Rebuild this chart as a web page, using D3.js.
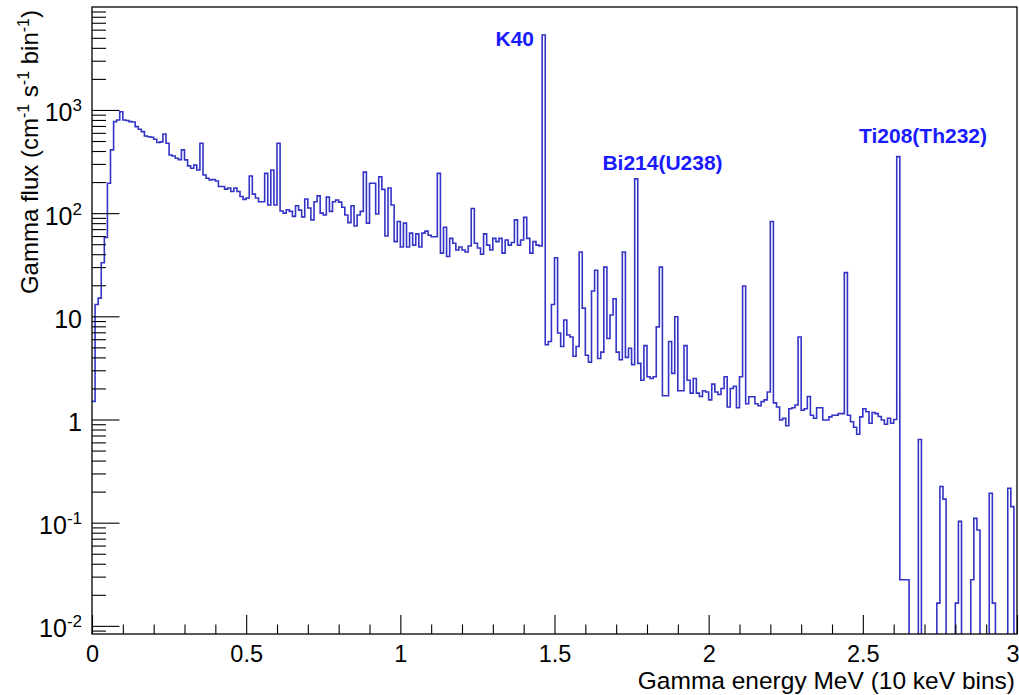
<!DOCTYPE html>
<html><head><meta charset="utf-8">
<script src="https://cdn.jsdelivr.net/npm/d3@7"></script>
<style>
html,body{margin:0;padding:0;background:#fff;}
svg{display:block;font-family:"Liberation Sans",Arial,Helvetica,sans-serif;}
</style></head><body>
<svg id="chart" width="1019" height="695"></svg>
<script>
// Gamma flux per 10 keV bin (bin i covers i*0.01 .. (i+1)*0.01 MeV); 0 = empty bin
const flux = [
  1.5, 13, 15, 33, 58, 195, 410, 770, 800, 960,
  800, 790, 770, 765, 690, 650, 617, 560, 550, 543,
  520, 483, 490, 585, 475, 366, 358, 340, 330, 410,
  328, 287, 272, 293, 262, 475, 234, 218, 210, 212,
  205, 181, 181, 171, 175, 162, 175, 162, 145, 136,
  140, 229, 153, 140, 129, 129, 243, 120, 262, 120,
  475, 105, 100, 108, 104, 93, 118, 107, 92, 137,
  112, 86, 129, 147, 100, 96, 143, 104, 129, 134,
  128, 114, 96, 81, 118, 75, 96, 104, 250, 80,
  195, 195, 98, 225, 170, 60, 175, 120, 53, 83,
  47, 80, 47, 64, 49, 63, 47, 64, 67, 61,
  59, 59, 243, 41, 73, 38, 57, 51, 44, 47,
  44, 42, 48, 111, 51, 46, 40, 63, 49, 44,
  57, 53, 57, 41, 55, 49, 52, 86, 49, 55,
  91, 57, 41, 53, 49, 48, 5330, 5.3, 5.7, 13,
  37, 6.9, 5.1, 9.2, 6.6, 6.3, 4.1, 5.1, 42, 12,
  4.2, 3.6, 17.6, 28, 3.9, 4.5, 30, 6.1, 10.3, 14.8,
  4.5, 3.8, 42, 4.0, 4.9, 3.4, 215, 3.5, 2.4, 5.2,
  2.6, 2.5, 2.6, 7.9, 30, 1.7, 1.7, 5.7, 2.8, 9.9,
  1.9, 1.9, 5.2, 2.4, 1.8, 2.5, 1.8, 1.67, 1.9, 1.85,
  1.55, 2.2, 1.85, 1.75, 2.0, 2.6, 1.32, 2.0, 2.1, 1.3,
  2.6, 19.7, 1.42, 1.66, 1.66, 1.42, 1.36, 1.49, 1.55, 1.85,
  83, 1.45, 1.32, 0.99, 1.03, 0.87, 1.27, 1.3, 1.38, 6.3,
  1.23, 1.27, 1.67, 1.1, 1.03, 1.3, 1.3, 0.99, 0.99, 1.06,
  1.1, 1.1, 1.14, 1.14, 26.5, 1.1, 0.95, 0.84, 0.72, 1.06,
  1.27, 1.19, 0.92, 1.17, 1.14, 1.07, 0.99, 0.9, 1.03, 0.92,
  1.0, 353, 0.028, 0.028, 0.028, 0, 0, 0, 0.64, 0,
  0, 0, 0, 0, 0.0166, 0.224, 0.169, 0, 0, 0,
  0.0166, 0.103, 0, 0, 0, 0.028, 0.11, 0.085, 0, 0,
  0, 0.193, 0.0166, 0, 0, 0, 0, 0.216, 0.143, 0
];
const binWidth = 0.01; // MeV
const xTicks = [0, 0.5, 1, 1.5, 2, 2.5, 3];
const xTickLabels = ["0", "0.5", "1", "1.5", "2", "2.5", "3"];
const yTicks = [0.01, 0.1, 1, 10, 100, 1000];
const yTickBase = ["10", "10", "1", "10", "10", "10"];
const yTickExp = ["-2", "-1", "", "", "2", "3"];
const peakNames = ["K40", "Bi214(U238)", "Ti208(Th232)"];
const xTitle = "Gamma energy MeV (10 keV bins)";

const svg = d3.select("#chart");
const L = 92, R = 1017, T = 7, B = 634;
const x = d3.scaleLinear().domain([0, 3]).range([L, R]);
const y = d3.scaleLog().domain([0.00834, 9950]).range([B, T]);

svg.append("rect").attr("width", 1019).attr("height", 695).attr("fill", "#fff");

svg.append("defs").append("clipPath").attr("id", "clip")
  .append("rect").attr("x", L).attr("y", T).attr("width", R - L).attr("height", B - T);

// histogram outline
const pts = flux.map((v, i) => [i * binWidth, v]);
pts.push([flux.length * binWidth, flux[flux.length - 1]]);
const line = d3.line()
  .x(d => x(d[0]))
  .y(d => d[1] > 0 ? y(d[1]) : B + 6)
  .curve(d3.curveStepAfter);
svg.append("path").attr("d", line(pts))
  .attr("fill", "none").attr("stroke", "#3333c6").attr("stroke-width", 1.6)
  .attr("clip-path", "url(#clip)");

// axes (ticks inside frame, ROOT style)
const xMinor = d3.range(1, 30).map(i => i / 10).filter(v => Math.abs(v * 2 - Math.round(v * 2)) > 1e-6);
svg.append("g").attr("transform", `translate(0,${B})`)
  .call(d3.axisBottom(x).tickValues(xMinor).tickSize(-9.5).tickFormat(""))
  .call(g => g.select(".domain").remove());
const gx = svg.append("g").attr("transform", `translate(0,${B})`)
  .call(d3.axisBottom(x).tickValues(xTicks).tickSize(-19).tickFormat((d, i) => xTickLabels[i]));
gx.select(".domain").remove();
gx.selectAll(".tick text").attr("y", 28).attr("dy", 0)
  .attr("font-size", 23.5).attr("fill", "#000")
  .attr("font-family", '"Liberation Sans",Arial,Helvetica,sans-serif');
// last label sits on the right edge: keep it inside the picture
gx.selectAll(".tick text").filter(d => d === 3).attr("text-anchor", "end").attr("x", 2);

const yMinor = [];
for (let n = -3; n <= 4; n++) for (let m = 2; m <= 9; m++) {
  const v = m * Math.pow(10, n);
  if (v > y.domain()[0] && v < y.domain()[1]) yMinor.push(v);
}
svg.append("g").attr("transform", `translate(${L},0)`)
  .call(d3.axisLeft(y).tickValues(yMinor).tickSize(-14).tickFormat(""))
  .call(g => g.select(".domain").remove());
const gy = svg.append("g").attr("transform", `translate(${L},0)`)
  .call(d3.axisLeft(y).tickValues(yTicks).tickSize(-27.5).tickFormat(""));
gy.select(".domain").remove();
gy.selectAll(".tick text").remove();
gy.selectAll(".tick").each(function (d, i) {
  const t = d3.select(this).append("text")
    .attr("x", -10).attr("y", 11).attr("text-anchor", "end")
    .attr("fill", "#000").attr("font-size", 25)
    .attr("font-family", '"Liberation Sans",Arial,Helvetica,sans-serif');
  t.append("tspan").text(yTickBase[i]);
  if (yTickExp[i]) t.append("tspan").attr("dy", -10).attr("font-size", 17).text(yTickExp[i]);
});
svg.selectAll(".tick line").attr("stroke", "#000").attr("stroke-width", 1.1);

// frame
svg.append("rect").attr("x", L).attr("y", T).attr("width", R - L).attr("height", B - T)
  .attr("fill", "none").attr("stroke", "#000").attr("stroke-width", 1.3);

// axis titles
svg.append("text").attr("x", 1015).attr("y", 689).attr("text-anchor", "end")
  .attr("font-size", 24.5).attr("fill", "#000").text(xTitle);

const yt = svg.append("text").attr("transform", "translate(38,10) rotate(-90)")
  .attr("text-anchor", "end").attr("font-size", 24).attr("fill", "#000");
yt.append("tspan").text("Gamma flux (cm");
yt.append("tspan").attr("dy", -9).attr("font-size", 16).text("-1");
yt.append("tspan").attr("dy", 9).text(" s");
yt.append("tspan").attr("dy", -9).attr("font-size", 16).text("-1");
yt.append("tspan").attr("dy", 9).text(" bin");
yt.append("tspan").attr("dy", -9).attr("font-size", 16).text("-1");
yt.append("tspan").attr("dy", 9).text(")");

// peak annotations
const lab = svg.append("g").attr("font-weight", "bold").attr("font-size", 21).attr("fill", "#1a1aff");
lab.append("text").attr("x", 534).attr("y", 46).attr("text-anchor", "end").text(peakNames[0]);
lab.append("text").attr("x", 662.5).attr("y", 170).attr("text-anchor", "middle").text(peakNames[1]);
lab.append("text").attr("x", 923).attr("y", 143).attr("text-anchor", "middle").text(peakNames[2]);
</script>
</body></html>
